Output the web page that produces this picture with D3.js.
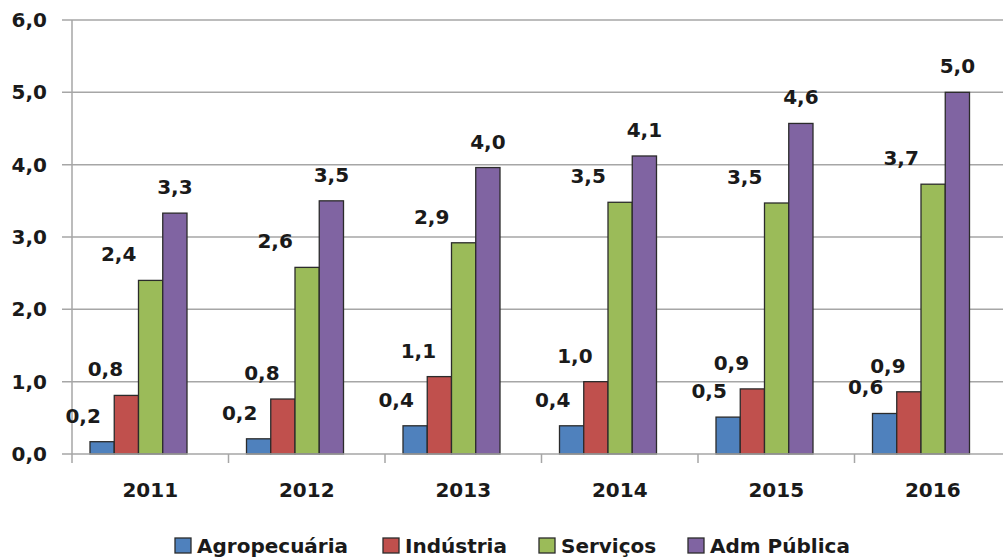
<!DOCTYPE html>
<html><head><meta charset="utf-8">
<script src="https://cdn.jsdelivr.net/npm/d3@7/dist/d3.min.js"></script>
<style>body{margin:0;background:#fff}svg{display:block}text{font-family:"DejaVu Sans",Verdana,sans-serif;font-weight:bold;fill:#1a1a1a}</style>
</head><body>
<svg id="c" width="1003" height="558"></svg>
<script>
const years = ["2011","2012","2013","2014","2015","2016"];
const seriesNames = ["Agropecuária","Indústria","Serviços","Adm Pública"];
const agro = [0.17,0.21,0.39,0.39,0.51,0.56];
const industria = [0.81,0.76,1.07,1.00,0.90,0.86];
const servicos = [2.40,2.58,2.92,3.48,3.47,3.73];
const admPublica = [3.33,3.50,3.96,4.12,4.57,5.00];
const labelAgro = ["0,2","0,2","0,4","0,4","0,5","0,6"];
const labelIndustria = ["0,8","0,8","1,1","1,0","0,9","0,9"];
const labelServicos = ["2,4","2,6","2,9","3,5","3,5","3,7"];
const labelAdm = ["3,3","3,5","4,0","4,1","4,6","5,0"];
const yTicks = [0,1,2,3,4,5,6];
const yTickLabels = ["0,0","1,0","2,0","3,0","4,0","5,0","6,0"];

(function(){
const colors = ["#4F81BD","#C0504D","#9BBB59","#8064A2"];
const labelDx = [-19,-21,-32,0];
const values = [agro, industria, servicos, admPublica];
const labels = [labelAgro, labelIndustria, labelServicos, labelAdm];

const svg = d3.select("#c");
const pL = 72, pR = 1011, pT = 20, pB = 454;
const x = d3.scaleBand().domain(years).range([pL, pR]);
const x1 = d3.scaleBand().domain(seriesNames).range([18, 115]);
const y = d3.scaleLinear().domain([0,6]).range([pB, pT]);

svg.append("g").selectAll("line").data(yTicks.filter(d=>d>0)).join("line")
  .attr("x1", pL-10).attr("x2", 1003).attr("y1", d=>y(d)).attr("y2", d=>y(d))
  .attr("stroke", "#a6a6a6").attr("stroke-width", 1.5);

svg.append("line").attr("x1", pL).attr("x2", pL).attr("y1", pT).attr("y2", pB)
  .attr("stroke", "#a6a6a6").attr("stroke-width", 1.5);
svg.append("g").selectAll("text").data(yTicks).join("text")
  .attr("x", 47).attr("y", d=>y(d)+7).attr("text-anchor","end").attr("font-size",20)
  .text((d,i)=>yTickLabels[i]);

years.forEach((yr, i) => {
  const g = svg.append("g").attr("transform", `translate(${x(yr)},0)`);
  seriesNames.forEach((s, j) => {
    const v = values[j][i];
    g.append("rect").attr("x", x1(s)).attr("width", x1.bandwidth())
      .attr("y", y(v)).attr("height", y(0)-y(v))
      .attr("fill", colors[j]).attr("stroke", "#2b2b2b").attr("stroke-width", 1.3);
  });
  seriesNames.forEach((s, j) => {
    const v = values[j][i];
    g.append("text").attr("x", x1(s)+x1.bandwidth()/2+labelDx[j]).attr("y", y(v)-19)
      .attr("text-anchor","middle").attr("font-size",20).text(labels[j][i]);
  });
});

svg.append("line").attr("x1", pL-10).attr("x2", 1003).attr("y1", pB).attr("y2", pB)
  .attr("stroke", "#a6a6a6").attr("stroke-width", 1.5);
svg.append("g").selectAll("line").data(years).join("line")
  .attr("x1", d=>x(d)).attr("x2", d=>x(d)).attr("y1", pB).attr("y2", pB+9)
  .attr("stroke", "#a6a6a6").attr("stroke-width", 1.5);
svg.append("g").selectAll("text").data(years).join("text")
  .attr("x", d=>x(d)+x.bandwidth()/2).attr("y", 497).attr("text-anchor","middle")
  .attr("font-size",20).text(d=>d);

const legendX = [175, 383, 539, 688];
const lg = svg.append("g");
seriesNames.forEach((s, j) => {
  lg.append("rect").attr("x", legendX[j]).attr("y", 538).attr("width", 16).attr("height", 15)
    .attr("fill", colors[j]).attr("stroke", "#2b2b2b").attr("stroke-width", 1.3);
  lg.append("text").attr("x", legendX[j]+22).attr("y", 553).attr("font-size",20).text(s);
});
})();
</script>
</body></html>
